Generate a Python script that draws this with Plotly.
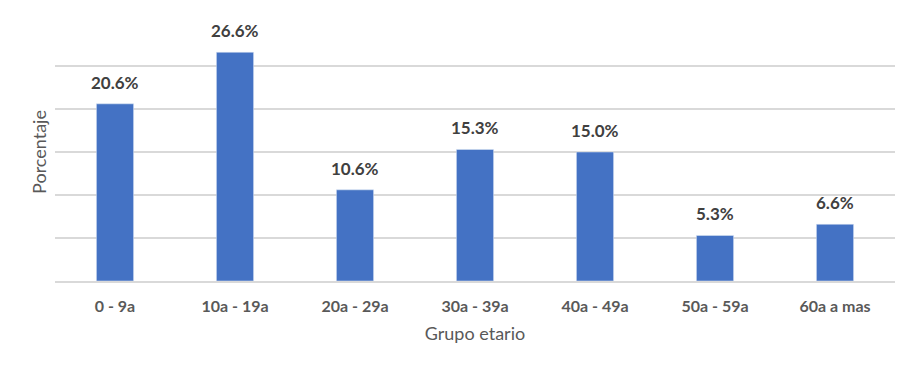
import plotly.graph_objects as go

categories = ["0 - 9a", "10a - 19a", "20a - 29a", "30a - 39a", "40a - 49a", "50a - 59a", "60a a mas"]
values = [20.6, 26.6, 10.6, 15.3, 15.0, 5.3, 6.6]
labels = [f"{v:.1f}%" for v in values]

fig = go.Figure()
fig.add_trace(go.Bar(
    x=categories, y=values, marker_color="#4472C4", width=0.31,
    hoverinfo="skip",
))
for c, v, t in zip(categories, values, labels):
    fig.add_annotation(x=c, y=v, text=t, showarrow=False, yanchor="bottom", yshift=9,
                       font=dict(family="Lato", size=17, color="#404040", weight="bold"))

# page body has an 8px margin, so the figure is offset by 8px
fig.update_layout(
    width=910, height=367,
    margin=dict(l=47, r=23, t=15, b=94),
    paper_bgcolor="white", plot_bgcolor="white",
    showlegend=False,
    xaxis=dict(
        automargin=False,
        showgrid=False, showline=True, linecolor="#d9d9d9", linewidth=1.5,
        tickfont=dict(family="Lato", size=16, color="#595959", weight="bold"),
        ticklabelstandoff=10,
        title=dict(text="Grupo etario", standoff=13,
                   font=dict(family="Lato", size=18, color="#595959")),
    ),
    yaxis=dict(
        automargin=False,
        range=[0, 30], dtick=5, showticklabels=False, zeroline=False,
        showgrid=True, gridcolor="#d9d9d9", gridwidth=1.5,
        title=dict(text="Porcentaje", standoff=2,
                   font=dict(family="Lato", size=18, color="#595959")),
    ),
)
fig.write_html("out.html")
